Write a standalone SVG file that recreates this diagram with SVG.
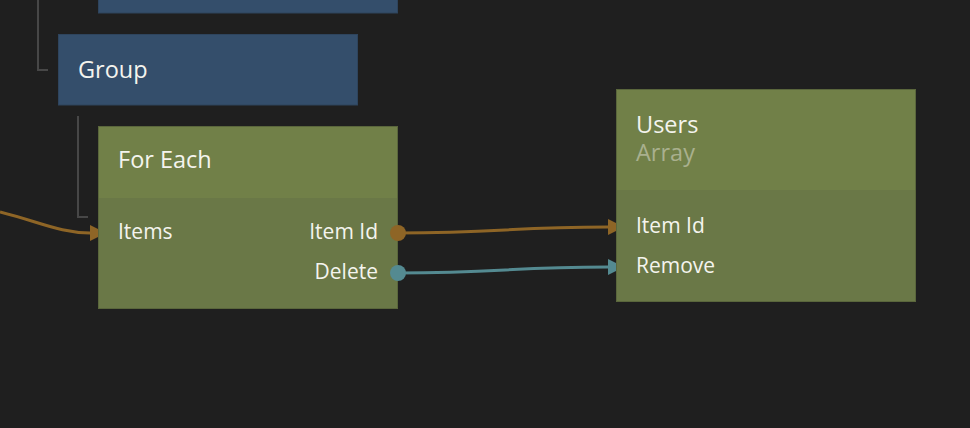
<svg xmlns="http://www.w3.org/2000/svg" width="970" height="428" viewBox="0 0 970 428">
<defs>
<style>
.bg{fill:#1f1f1f}
.blue{fill:#344e6b;stroke:#2e445d;stroke-width:1}
.hdr{fill:#718048}
.body{fill:#6a7847}
.frame{fill:none;stroke:#5a663c;stroke-width:1}
.tree{fill:none;stroke:#474747;stroke-width:2}
.title{font-family:"Open Sans","Noto Sans",sans-serif;font-size:23.5px;fill:#f4f4ee}
.sub{font-family:"Open Sans","Noto Sans",sans-serif;font-size:23.5px;fill:#a9b08e}
.port{font-family:"Open Sans","Noto Sans",sans-serif;font-size:21px;fill:#f4f4ee}
.wire-o{fill:none;stroke:#8e6526;stroke-width:3}
.wire-t{fill:none;stroke:#548a91;stroke-width:3}
</style>
<marker id="ao" viewBox="0 0 16 16" refX="0" refY="8" markerWidth="16" markerHeight="16" markerUnits="userSpaceOnUse" orient="auto"><path d="M0,0 L16,8 L0,16 Z" fill="#8e6526"/></marker>
<marker id="at" viewBox="0 0 16 16" refX="0" refY="8" markerWidth="16" markerHeight="16" markerUnits="userSpaceOnUse" orient="auto"><path d="M0,0 L16,8 L0,16 Z" fill="#548a91"/></marker>
</defs>
<rect class="bg" x="0" y="0" width="970" height="428"/>
<g id="tree-lines">
<path class="tree" d="M38,0 V70 H48"/>
<path class="tree" d="M78,116 V217 H88"/>
</g>
<g id="node-top">
<rect class="blue" x="98.5" y="-10" width="299" height="23"/>
</g>
<g id="node-group">
<rect class="blue" x="58.5" y="34.5" width="299" height="70.5"/>
<text class="title" x="78" y="78">Group</text>
</g>
<g id="connectors">
<path class="wire-o" d="M0,212 C40,222 60,233 90,233" marker-end="url(#ao)"/>
<path class="wire-o" d="M398,233 C500,233 510,227 608,227" marker-end="url(#ao)"/>
<path class="wire-t" d="M398,273 C500,273 510,267 608,267" marker-end="url(#at)"/>
</g>
<g id="node-foreach">
<rect class="hdr" x="98" y="126" width="300" height="72"/>
<rect class="body" x="98" y="198" width="300" height="111"/>
<rect class="frame" x="98.5" y="126.5" width="299" height="182"/>
<text class="title" x="118" y="168">For Each</text>
<text class="port" x="118" y="239">Items</text>
<text class="port" x="378" y="239" text-anchor="end">Item Id</text>
<text class="port" x="378" y="279" text-anchor="end">Delete</text>
<circle cx="398" cy="233" r="8" fill="#8e6526"/>
<circle cx="398" cy="273" r="8" fill="#548a91"/>
</g>
<g id="node-users">
<rect class="hdr" x="616" y="89" width="300" height="101"/>
<rect class="body" x="616" y="190" width="300" height="112"/>
<rect class="frame" x="616.5" y="89.5" width="299" height="212"/>
<text class="title" x="636" y="133">Users</text>
<text class="sub" x="636" y="161">Array</text>
<text class="port" x="636" y="233">Item Id</text>
<text class="port" x="636" y="273">Remove</text>
</g>
</svg>
